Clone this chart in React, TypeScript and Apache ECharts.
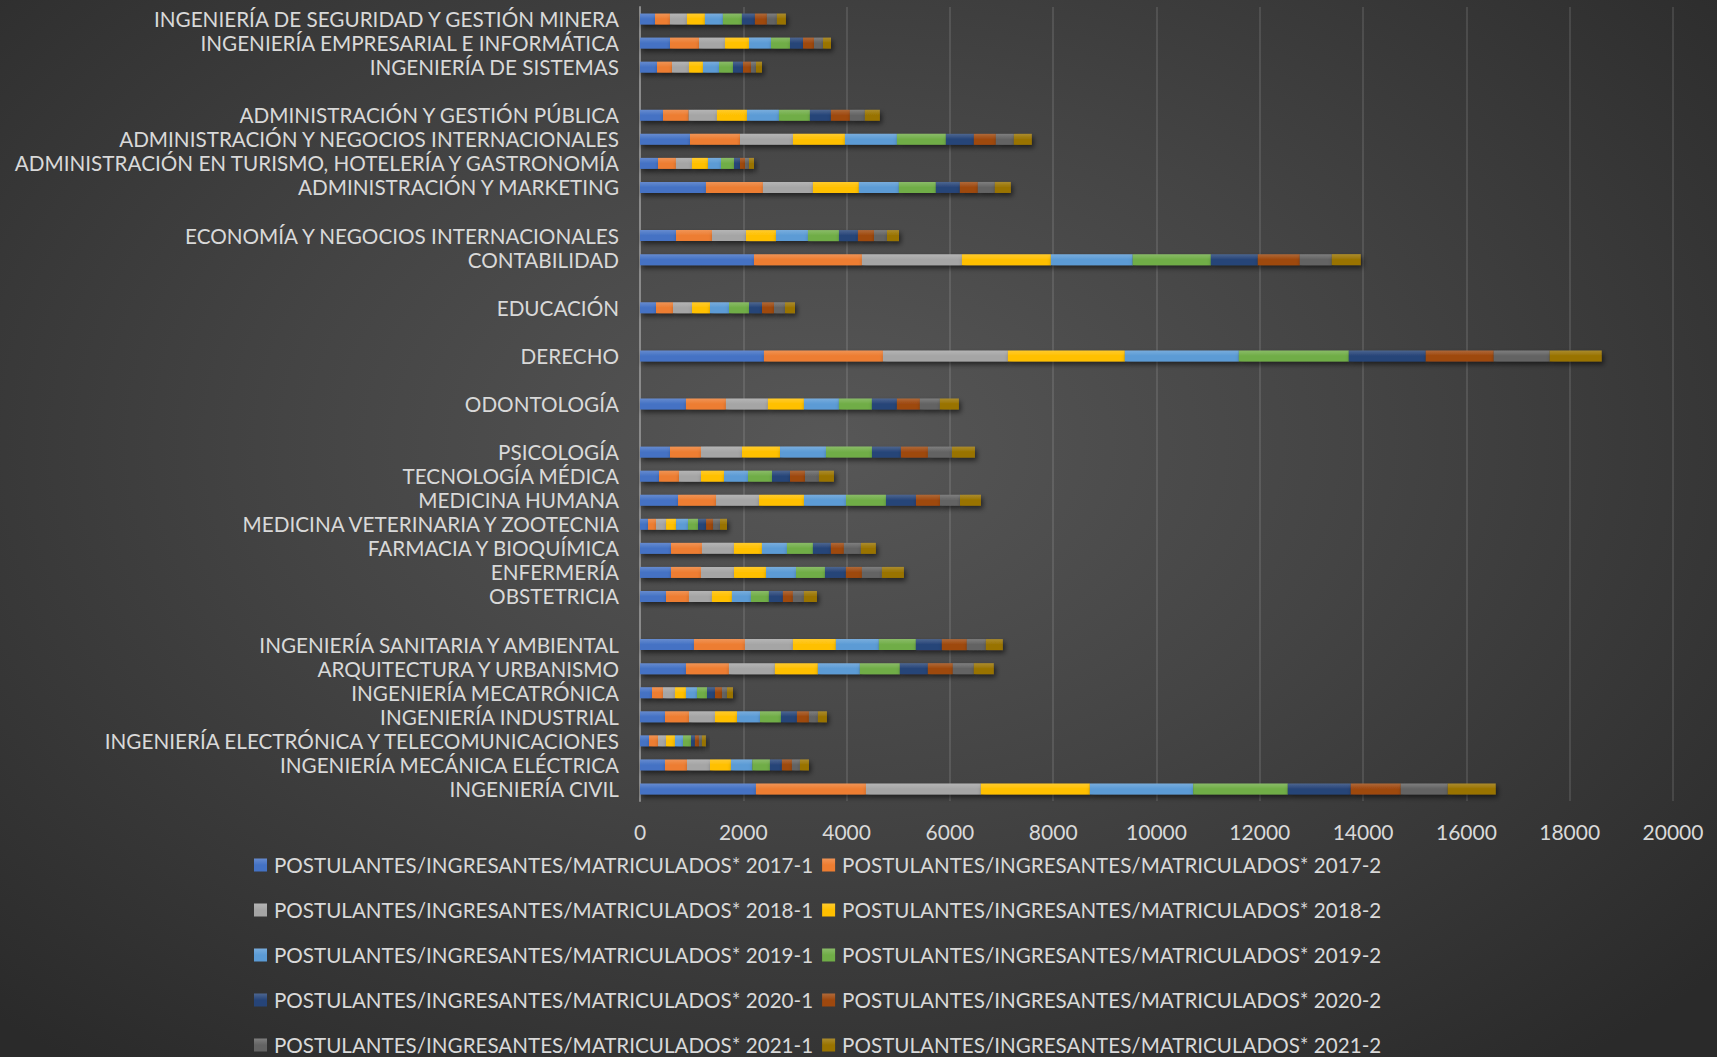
import React, { useEffect, useRef } from "react";
import * as echarts from "echarts";

// Categories, top to bottom (blank entries are spacer rows)
const categories: string[] = [
  "INGENIERÍA DE SEGURIDAD Y GESTIÓN MINERA",
  "INGENIERÍA EMPRESARIAL E INFORMÁTICA",
  "INGENIERÍA DE SISTEMAS",
  " ",
  "ADMINISTRACIÓN Y GESTIÓN PÚBLICA",
  "ADMINISTRACIÓN Y NEGOCIOS INTERNACIONALES",
  "ADMINISTRACIÓN EN TURISMO, HOTELERÍA Y GASTRONOMÍA",
  "ADMINISTRACIÓN Y MARKETING",
  "  ",
  "ECONOMÍA Y NEGOCIOS INTERNACIONALES",
  "CONTABILIDAD",
  "   ",
  "EDUCACIÓN",
  "    ",
  "DERECHO",
  "     ",
  "ODONTOLOGÍA",
  "      ",
  "PSICOLOGÍA",
  "TECNOLOGÍA MÉDICA",
  "MEDICINA HUMANA",
  "MEDICINA VETERINARIA Y ZOOTECNIA",
  "FARMACIA Y BIOQUÍMICA",
  "ENFERMERÍA",
  "OBSTETRICIA",
  "       ",
  "INGENIERÍA SANITARIA Y AMBIENTAL",
  "ARQUITECTURA Y URBANISMO",
  "INGENIERÍA MECATRÓNICA",
  "INGENIERÍA INDUSTRIAL",
  "INGENIERÍA ELECTRÓNICA Y TELECOMUNICACIONES",
  "INGENIERÍA MECÁNICA ELÉCTRICA",
  "INGENIERÍA CIVIL",
];

const seriesNames: string[] = [
  "POSTULANTES/INGRESANTES/MATRICULADOS* 2017-1",
  "POSTULANTES/INGRESANTES/MATRICULADOS* 2017-2",
  "POSTULANTES/INGRESANTES/MATRICULADOS* 2018-1",
  "POSTULANTES/INGRESANTES/MATRICULADOS* 2018-2",
  "POSTULANTES/INGRESANTES/MATRICULADOS* 2019-1",
  "POSTULANTES/INGRESANTES/MATRICULADOS* 2019-2",
  "POSTULANTES/INGRESANTES/MATRICULADOS* 2020-1",
  "POSTULANTES/INGRESANTES/MATRICULADOS* 2020-2",
  "POSTULANTES/INGRESANTES/MATRICULADOS* 2021-1",
  "POSTULANTES/INGRESANTES/MATRICULADOS* 2021-2",
];

const s2017_1 = [290, 581, 329, null, 445, 968, 348, 1277, null, 697, 2207, null, 310, null, 2400, null, 890, null, 581, 368, 736, 155, 600, 600, 503, null, 1045, 890, 232, 484, 174, 484, 2245];
const s2017_2 = [290, 561, 290, null, 497, 968, 348, 1103, null, 697, 2090, null, 329, null, 2304, null, 774, null, 600, 387, 736, 155, 600, 581, 445, null, 987, 832, 213, 465, 174, 426, 2130];
const s2018_1 = [329, 503, 329, null, 548, 1026, 310, 968, null, 658, 1936, null, 368, null, 2419, null, 813, null, 794, 426, 832, 194, 619, 639, 445, null, 929, 890, 232, 503, 155, 445, 2225];
const s2018_2 = [348, 465, 271, null, 581, 1006, 310, 890, null, 581, 1722, null, 348, null, 2264, null, 697, null, 736, 445, 871, 194, 542, 619, 387, null, 832, 832, 213, 426, 174, 406, 2110];
const s2019_1 = [348, 426, 310, null, 619, 1006, 252, 774, null, 619, 1584, null, 368, null, 2207, null, 677, null, 890, 465, 813, 232, 484, 581, 368, null, 832, 813, 213, 445, 155, 413, 2000];
const s2019_2 = [368, 368, 271, null, 600, 948, 252, 716, null, 600, 1513, null, 387, null, 2129, null, 639, null, 890, 465, 774, 194, 503, 561, 348, null, 716, 774, 194, 406, 155, 342, 1832];
const s2020_1 = [252, 252, 194, null, 406, 542, 116, 465, null, 368, 909, null, 252, null, 1490, null, 484, null, 561, 348, 581, 155, 348, 406, 271, null, 503, 542, 155, 310, 77, 232, 1219];
const s2020_2 = [232, 213, 155, null, 368, 426, 97, 348, null, 310, 813, null, 232, null, 1316, null, 445, null, 523, 290, 465, 135, 252, 310, 194, null, 484, 484, 135, 232, 77, 194, 968];
const s2021_1 = [194, 174, 97, null, 290, 348, 77, 329, null, 252, 620, null, 213, null, 1084, null, 387, null, 465, 271, 387, 135, 329, 387, 213, null, 368, 406, 97, 174, 58, 155, 910];
const s2021_2 = [174, 155, 116, null, 290, 348, 97, 310, null, 232, 561, null, 194, null, 1007, null, 368, null, 445, 290, 406, 135, 290, 426, 252, null, 329, 387, 116, 174, 77, 174, 929];

const seriesValues = [s2017_1, s2017_2, s2018_1, s2018_2, s2019_1, s2019_2, s2020_1, s2020_2, s2021_1, s2021_2];

const colors = ["#4472C4", "#ED7D31", "#A5A5A5", "#FFC000", "#5B9BD5", "#70AD47", "#264478", "#9E480E", "#636363", "#997300"];

const xTicks = { min: 0, max: 20000, interval: 2000 };

const FONT = "Lato";
const TEXT_COLOR = "#D9D9D9";

function lighten(hex: string, amt: number): string {
  const n = parseInt(hex.slice(1), 16);
  const r = (n >> 16) & 255, g = (n >> 8) & 255, b = n & 255;
  const f = (c: number) => Math.round(c + (255 - c) * amt);
  return `rgb(${f(r)},${f(g)},${f(b)})`;
}

export default function App() {
  const ref = useRef<HTMLDivElement>(null);
  useEffect(() => {
    document.body.style.margin = "0";
    if (!ref.current) return;
    const chart = echarts.init(ref.current, undefined, { renderer: "svg" });
    const option = {
      animation: false,
      backgroundColor: "transparent",
      grid: { left: 640, right: 44, top: 7, bottom: 256, containLabel: false, outerBoundsMode: "none" },
      legend: {
        left: 254,
        top: 847,
        width: 1300,
        padding: 0,
        itemWidth: 13,
        itemHeight: 13,
        itemGap: 9,
        icon: "rect",
        textStyle: { color: TEXT_COLOR, fontFamily: FONT, fontSize: 20.6, lineHeight: 36, padding: [0, 0, 0, 2] },
        data: seriesNames,
      },
      xAxis: {
        type: "value",
        min: xTicks.min,
        max: xTicks.max,
        interval: xTicks.interval,
        axisLine: { show: false },
        axisTick: { show: false },
        splitLine: { show: true, lineStyle: { color: "rgba(255,255,255,0.11)", width: 2 } },
        axisLabel: {
          color: TEXT_COLOR,
          fontFamily: FONT,
          fontSize: 21,
          margin: 20,
          formatter: (v: number) => String(v),
        },
      },
      yAxis: {
        type: "category",
        inverse: true,
        data: categories,
        axisLine: { show: true, lineStyle: { color: "#8a8a8a", width: 2 } },
        axisTick: { show: false },
        axisLabel: { color: TEXT_COLOR, fontFamily: FONT, fontSize: 20.7, margin: 21, interval: 0 },
      },
      series: seriesNames.map((name, i) => ({
        name,
        type: "bar",
        stack: "total",
        barWidth: 11,
        data: seriesValues[i],
        itemStyle: {
          color: new echarts.graphic.LinearGradient(0, 0, 0, 1, [
            { offset: 0, color: lighten(colors[i], 0.18) },
            { offset: 0.5, color: colors[i] },
            { offset: 1, color: colors[i] },
          ]),
          shadowColor: "rgba(0,0,0,0.55)",
          shadowBlur: 5,
          shadowOffsetX: 2,
          shadowOffsetY: 3,
        },
      })),
      color: colors,
    };
    chart.setOption(option as any);
    return () => chart.dispose();
  }, []);
  return (
    <div
      ref={ref}
      style={{
        width: 1717,
        height: 1057,
        background: "radial-gradient(ellipse 70% 75% at 48% 42%, #575757 0%, #444444 45%, #2a2a2a 100%)",
      }}
    />
  );
}
